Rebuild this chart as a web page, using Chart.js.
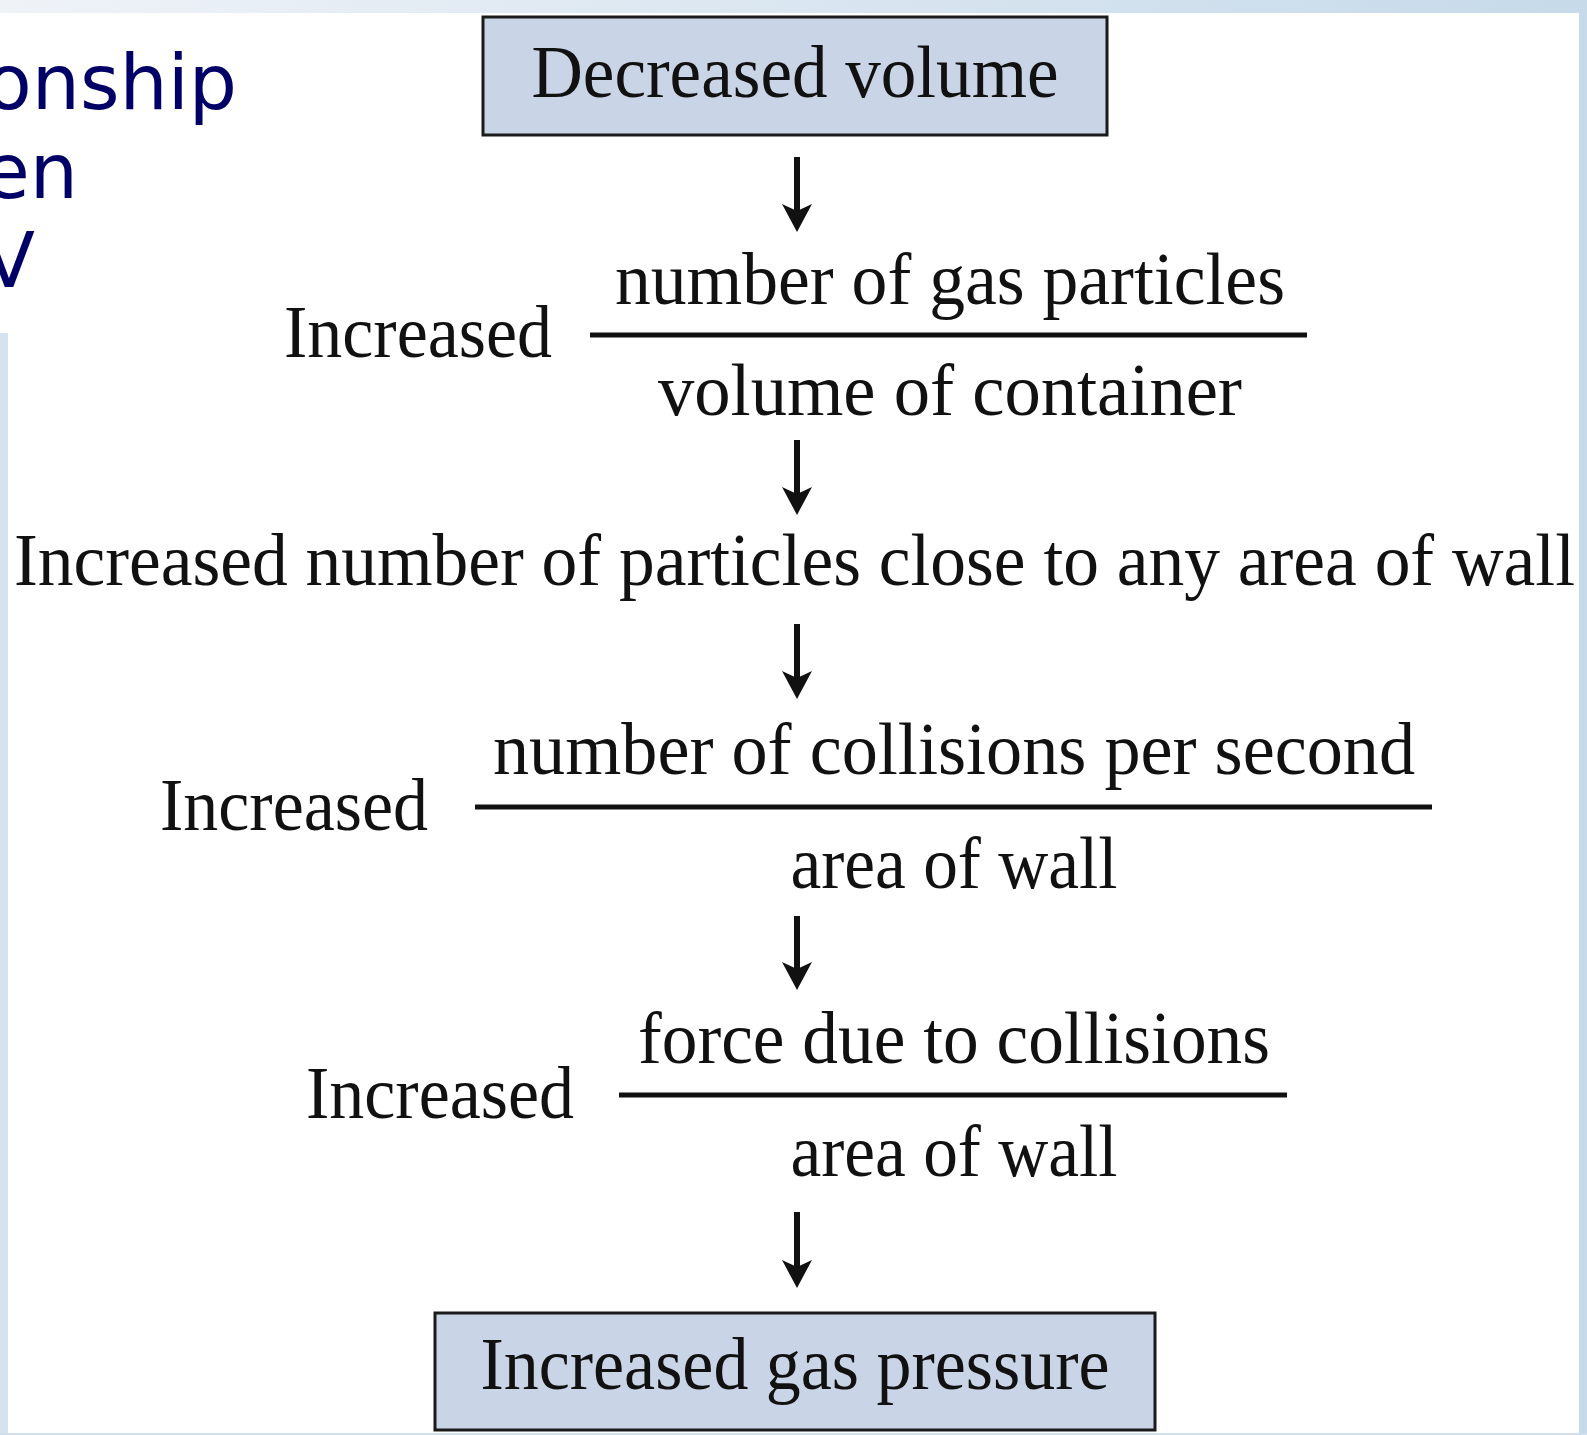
<!DOCTYPE html>
<html>
<head>
<meta charset="utf-8">
<script src="https://cdn.jsdelivr.net/npm/chart.js@4"></script>
<style>
  html, body { margin: 0; padding: 0; background: #fff; }
  canvas { display: block; }
</style>
</head>
<body>
<canvas id="flowChart" width="1587" height="1435"></canvas>
<script>
// text content of the diagram
var boxLabels = ['Decreased volume', 'Increased gas pressure'];
var prefixLabel = 'Increased';
var numerators = ['number of gas particles', 'number of collisions per second', 'force due to collisions'];
var denominators = ['volume of container', 'area of wall', 'area of wall'];
var middleLabel = 'Increased number of particles close to any area of wall';
var titleLines = ['onship', 'en', 'V'];   // tail of the slide title, cut off at the left

// layout, in diagram units (x 0-1587 left to right, y 0-1435 top down)
var arrowX = 797;
var arrowTop = [157, 440, 624, 916, 1212];
var arrowTip = [232, 515, 699, 990, 1288];
var boxLeft = [483, 435];
var boxRight = [1107, 1155];
var boxTop = [17, 1313];
var boxBottom = [135, 1430];
var boxBaseline = [97, 1389];
var boxTextWidth = [527, 629];
var fracLineY = [335, 807, 1095];
var fracLineStart = [590, 475, 619];
var fracLineEnd = [1307, 1432, 1287];
var fracCenterX = [950, 954, 954];
var numBaseline = [304, 774, 1063];
var denBaseline = [415, 888, 1176];
var numWidth = [670, 922, 632];
var denWidth = [584, 327, 327];
var prefixLeft = [284, 160, 306];
var prefixBaseline = [357, 830, 1118];
var prefixWidth = 268;
var middleLeft = 14;
var middleBaseline = 585;
var middleWidth = 1561;
var titleRight = [237, 78, 35];
var titleBaseline = [109, 198, 287];

var serif = '"Liberation Serif", "DejaVu Serif", serif';
var ink = '#111111';

// arrowhead drawn once, used as point style
var headImg = document.createElement('canvas');
headImg.width = 32;
headImg.height = 28;
(function () {
    var c = headImg.getContext('2d');
    c.fillStyle = ink;
    c.beginPath();
    c.moveTo(16, 28);
    c.lineTo(1, 0);
    c.lineTo(16, 7);
    c.lineTo(31, 0);
    c.closePath();
    c.fill();
})();

var datasets = [];

// fraction bars
fracLineY.forEach(function (y, i) {
    datasets.push({
        type: 'line',
        data: [{x: fracLineStart[i], y: y}, {x: fracLineEnd[i], y: y}],
        borderColor: ink,
        borderWidth: 5,
        pointRadius: 0,
        borderCapStyle: 'butt'
    });
});

// arrow shafts
arrowTop.forEach(function (top, i) {
    datasets.push({
        type: 'line',
        data: [{x: arrowX, y: top}, {x: arrowX, y: arrowTip[i] - 18}],
        borderColor: ink,
        borderWidth: 6,
        pointRadius: 0,
        borderCapStyle: 'butt'
    });
});

// arrow heads
datasets.push({
    type: 'scatter',
    data: arrowTip.map(function (t) { return {x: arrowX, y: t - 14}; }),
    pointStyle: headImg,
    pointRadius: 16,
    backgroundColor: ink,
    borderWidth: 0
});

function px(chart, v) { return chart.scales.x.getPixelForValue(v); }
function py(chart, v) { return chart.scales.y.getPixelForValue(v); }

// write text squeezed/stretched to the measured width
function fitText(ctx, text, x, y, width, align) {
    var w = ctx.measureText(text).width;
    ctx.save();
    ctx.translate(x, y);
    ctx.scale(width / w, 1);
    ctx.textAlign = align;
    ctx.fillText(text, 0, 0);
    ctx.restore();
}

var backdrop = {
    id: 'backdrop',
    beforeDraw: function (chart) {
        var ctx = chart.ctx;
        var W = chart.width, H = chart.height;
        ctx.save();
        ctx.fillStyle = '#ffffff';
        ctx.fillRect(0, 0, W, H);
        var g = ctx.createLinearGradient(0, 0, W, 0);
        g.addColorStop(0, '#eff3f8');
        g.addColorStop(0.45, '#dce7f1');
        g.addColorStop(1, '#c6daea');
        ctx.fillStyle = g;
        ctx.fillRect(0, 0, W, 13);
        ctx.fillStyle = '#c6daea';
        ctx.fillRect(1579, 13, W - 1579, H - 13);
        ctx.fillStyle = '#d5e3ef';
        ctx.fillRect(0, 333, 8, H - 333);
        ctx.fillStyle = '#cfdfee';
        ctx.fillRect(0, 1433, W, H - 1433);
        ctx.restore();
    },
    beforeDatasetsDraw: function (chart) {
        var ctx = chart.ctx;
        ctx.save();
        boxLabels.forEach(function (lbl, i) {
            var x0 = px(chart, boxLeft[i]), x1 = px(chart, boxRight[i]);
            var y0 = py(chart, boxTop[i]), y1 = py(chart, boxBottom[i]);
            ctx.fillStyle = '#cad4e7';
            ctx.fillRect(x0, y0, x1 - x0, y1 - y0);
            ctx.strokeStyle = '#1a1a1a';
            ctx.lineWidth = 3;
            ctx.strokeRect(x0, y0, x1 - x0, y1 - y0);
        });
        ctx.restore();
    },
    afterDatasetsDraw: function (chart) {
        var ctx = chart.ctx;
        ctx.save();
        ctx.fillStyle = ink;
        ctx.textBaseline = 'alphabetic';
        ctx.font = '74px ' + serif;

        boxLabels.forEach(function (lbl, i) {
            var cx = px(chart, (boxLeft[i] + boxRight[i]) / 2);
            fitText(ctx, lbl, cx, py(chart, boxBaseline[i]), boxTextWidth[i], 'center');
        });

        numerators.forEach(function (t, i) {
            var cx = px(chart, fracCenterX[i]);
            fitText(ctx, t, cx, py(chart, numBaseline[i]), numWidth[i], 'center');
            fitText(ctx, denominators[i], cx, py(chart, denBaseline[i]), denWidth[i], 'center');
            fitText(ctx, prefixLabel, px(chart, prefixLeft[i]), py(chart, prefixBaseline[i]), prefixWidth, 'left');
        });

        fitText(ctx, middleLabel, px(chart, middleLeft), py(chart, middleBaseline), middleWidth, 'left');

        ctx.fillStyle = '#000066';
        ctx.font = '76px "DejaVu Sans", sans-serif';
        ctx.textAlign = 'right';
        titleLines.forEach(function (t, i) {
            ctx.fillText(t, px(chart, titleRight[i]), py(chart, titleBaseline[i]));
        });
        ctx.restore();
    }
};

var chart = new Chart(document.getElementById('flowChart').getContext('2d'), {
    type: 'scatter',
    data: { datasets: datasets },
    options: {
        responsive: false,
        animation: false,
        devicePixelRatio: 1,
        layout: { padding: 0, autoPadding: false },
        plugins: { legend: { display: false }, tooltip: { enabled: false } },
        events: [],
        scales: {
            x: { type: 'linear', min: 0, max: 1587, display: false },
            y: { type: 'linear', min: 0, max: 1435, reverse: true, display: false }
        }
    },
    plugins: [backdrop]
});
</script>
</body>
</html>
